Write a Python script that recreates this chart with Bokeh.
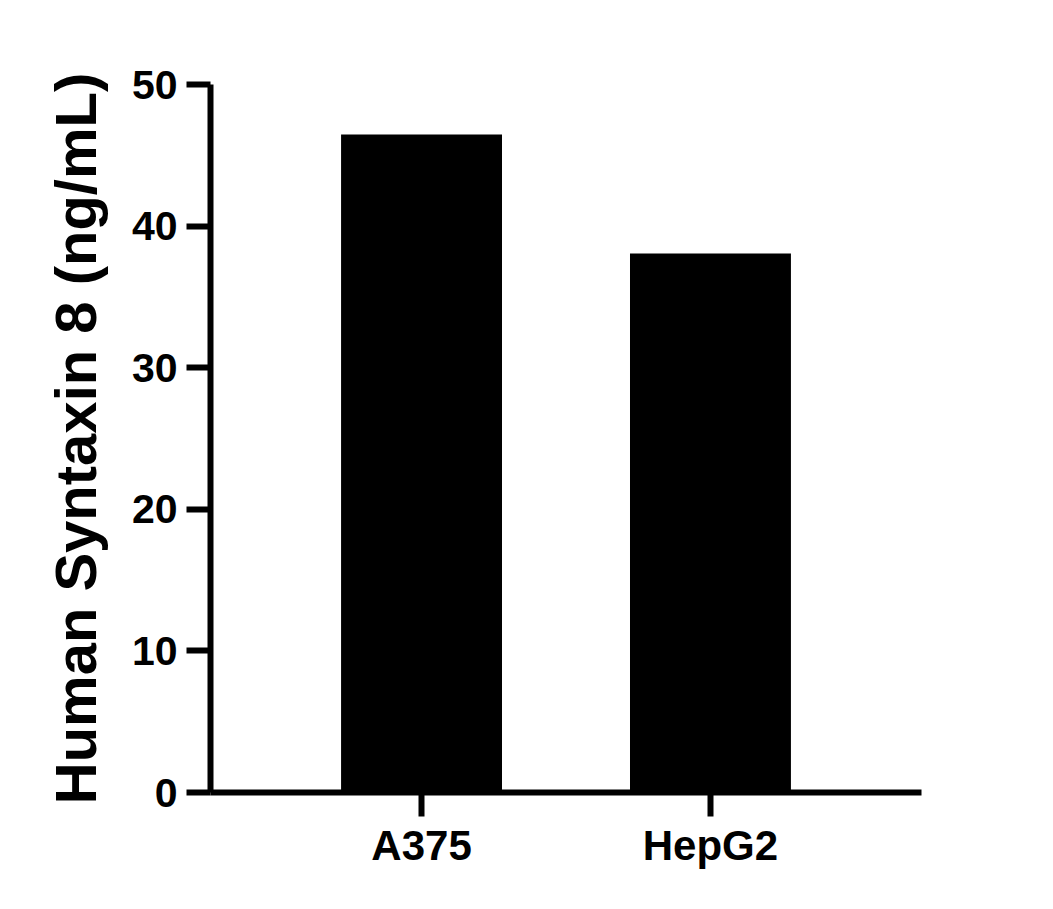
from bokeh.plotting import figure
from bokeh.models import FactorRange, Range1d, FixedTicker, ColumnDataSource
from bokeh.embed import file_html
from bokeh.resources import INLINE

categories = ["A375", "HepG2"]
values = [46.47, 38.07]
y_ticks = [0, 10, 20, 30, 40, 50]
y_label = "Human Syntaxin 8 (ng/mL)"

FONT = "Liberation Sans"

source = ColumnDataSource(data=dict(cat=categories, val=values))

p = figure(
    x_range=FactorRange(factors=categories, range_padding=0.2304, range_padding_units="absolute"),
    y_range=Range1d(0, 50),
    width=1037, height=900,
    min_border_left=210, min_border_right=116,
    min_border_top=84, min_border_bottom=108,
    output_backend="svg", toolbar_location=None,
)

p.vbar(x="cat", top="val", width=0.557, bottom=0, source=source,
       fill_color="black", line_color=None)

p.outline_line_color = None
p.xgrid.grid_line_color = None
p.ygrid.grid_line_color = None
p.background_fill_color = "white"
p.border_fill_color = "white"

for ax in (p.xaxis[0], p.yaxis[0]):
    ax.axis_line_width = 6
    ax.axis_line_color = "black"
    ax.major_tick_line_width = 6
    ax.major_tick_line_color = "black"
    ax.major_tick_out = 24
    ax.major_tick_in = 0
    ax.minor_tick_line_color = None
    ax.major_label_text_font = FONT
    ax.major_label_text_font_style = "bold"
    ax.major_label_text_color = "black"

p.yaxis[0].ticker = FixedTicker(ticks=y_ticks)
p.yaxis[0].major_label_text_font_size = "41px"
p.yaxis[0].major_label_standoff = 9
p.yaxis[0].axis_label = y_label
p.yaxis[0].axis_label_text_font = FONT
p.yaxis[0].axis_label_text_font_style = "bold"
p.yaxis[0].axis_label_text_font_size = "58px"
p.yaxis[0].axis_label_text_color = "black"
p.yaxis[0].axis_label_standoff = 21

p.xaxis[0].major_label_text_font_size = "42px"
p.xaxis[0].major_label_standoff = 5

open("out.html", "w").write(file_html(p, INLINE))
